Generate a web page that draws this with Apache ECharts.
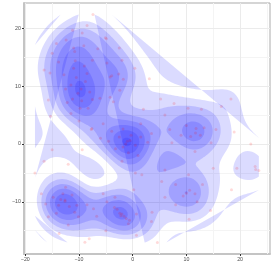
<!DOCTYPE html>
<html><head><meta charset="utf-8">
<script src="https://cdn.jsdelivr.net/npm/echarts@6/dist/echarts.min.js"></script>
<style>html,body{margin:0;padding:0;background:#fff}#c{width:274px;height:274px}</style>
</head><body><div id="c"></div>
<script>
const pointX = [
 -7.4,-8.5,-5.1,-4.9,-11.2,-12.4,-9.4,-2.5,-14.2,-15.0,-11.0,-9.1,-2.0,-13.8,-4.8,-10.7,-16.5,-15.4,0.4,-11.0,-8.5,-3.9,-2.6,-1.75,-4.2,-2.4,-9.6,-15.7,-7.5,-6.1,-3.6,-9.8,-15.3,-7.6,-4.2,-12.2,
 -10.2,-9.5,-11.2,-11.5,-8.8,-10.5,-12.5,-8.3,-11.5,-10.0,-9.0,-12.8,-7.5,-6.5,-10.8,-8.0,
 -7.7,-3.9,-2.0,0.5,1.7,-1.0,-0.3,-1.8,0.5,-2.5,-0.8,1.5,-3.2,1.0,-1.8,2.8,-4.5,-5.5,1.5,-0.5,-1.3,3.5,-6.0,
 6.9,7.3,11.6,14.6,18.9,22.0,11.8,11.7,12.6,10.8,13.3,10.0,9.0,15.5,
 3.1,5.2,7.7,10.3,12.8,18.3,16.5,2.0,6.0,
 -17.0,-12.6,-10.4,-10.1,-15.7,-13.7,-15.0,-9.4,-13.0,-11.8,-13.8,-11.3,-14.8,-12.5,-10.8,-14.2,-16.2,-12.6,-13.4,-8.5,-7.3,
 -18.2,-16.5,-12.0,
 -6.7,-4.8,-3.3,0.7,-0.8,-5.5,0.2,-2.0,-2.9,-1.2,-2.4,-1.6,-3.4,-0.6,-2.2,
 -8.9,-8.1,0.7,4.6,3.5,3.6,6.0,-5.0,-12.0,
 5.4,10.4,15.0,18.4,6.0,10.0,12.0,8.0,13.0,8.0,14.5,10.5,10.6,9.4,11.6,
 19.4,22.8,22.9,23.5
];
const pointY = [
 22.4,20.5,18.4,18.2,19.7,18.0,19.2,16.6,17.4,15.7,16.6,17.0,14.5,14.2,14.0,14.4,12.8,12.3,13.1,13.1,12.2,11.8,12.1,11.2,11.6,9.3,9.5,7.6,7.7,7.9,7.3,6.2,4.8,2.7,8.1,7.2,
 8.8,7.5,7.8,10.2,10.8,11.5,9.5,6.2,5.3,4.0,13.5,12.0,14.5,16.5,16.0,9.0,
 2.5,2.2,-3.0,-5.0,-5.3,0.5,1.5,-0.5,-0.2,1.2,-1.5,1.2,-0.8,-2.0,2.6,0.3,0.5,3.5,3.5,0.6,0.0,1.8,1.0,
 2.5,0.2,-1.3,0.2,2.1,0.0,2.7,1.9,1.5,1.3,2.8,3.2,1.5,2.5,
 11.3,7.8,7.0,6.2,6.0,7.8,6.5,6.0,5.0,
 -8.6,-9.7,-10.6,-12.6,-12.6,-15.5,-1.0,-1.0,-8.6,-10.8,-10.6,-8.8,-9.2,-7.5,-11.8,-12.0,-10.4,-9.9,-9.6,-10.5,-11.2,
 -5.0,-3.0,-3.5,
 -12.5,-10.0,-9.2,-12.1,-13.8,-8.6,-7.9,-12.1,-11.3,-12.9,-12.0,-12.5,-11.0,-13.2,-12.4,
 -17.0,-16.4,-15.8,-17.05,-13.4,-11.8,-9.2,-15.0,-14.0,
 -6.5,-5.3,-4.2,-7.9,-4.5,-8.5,-10.0,-10.5,-7.0,-7.0,-11.5,-13.0,-8.0,-9.0,-8.6,
 -4.2,-3.9,-4.4,-4.6
];
const xTickValues = [-20, -10, 0, 10, 20];
const yTickValues = [-10, 0, 10, 20];
const xMinorValues = [-15, -5, 5, 15, 25];
const yMinorValues = [-15, -5, 5, 15];
const densityBandwidth = [11, 11]; // kde2d h (x, y)

// ---- 2D kernel density (as MASS::kde2d) ----
const N = 100;
const xLo = Math.min(...pointX), xHi = Math.max(...pointX);
const yLo = Math.min(...pointY), yHi = Math.max(...pointY);
const gx = [], gy = [];
for (let i = 0; i < N; i++) { gx.push(xLo + i * (xHi - xLo) / (N - 1)); gy.push(yLo + i * (yHi - yLo) / (N - 1)); }
const hx = densityBandwidth[0] / 4, hy = densityBandwidth[1] / 4;
const phi = t => Math.exp(-0.5 * t * t) / Math.sqrt(2 * Math.PI);
const npt = pointX.length;
const ax = gx.map(g => pointX.map(x => phi((g - x) / hx)));
const ay = gy.map(g => pointY.map(y => phi((g - y) / hy)));
const Z = [];
let zMin = Infinity, zMax = -Infinity;
for (let i = 0; i < N; i++) {
  Z.push([]);
  for (let j = 0; j < N; j++) {
    let s = 0;
    for (let k = 0; k < npt; k++) s += ax[i][k] * ay[j][k];
    s /= npt * hx * hy;
    Z[i].push(s);
    if (s < zMin) zMin = s; if (s > zMax) zMax = s;
  }
}
function pretty(lo, hi, n) {
  const cell = (hi - lo) / n;
  const base = Math.pow(10, Math.floor(Math.log10(cell)));
  let U = base;
  if (2 * base - cell < 1.5 * (cell - U)) { U = 2 * base;
    if (5 * base - cell < 2.75 * (cell - U)) { U = 5 * base;
      if (10 * base - cell < 1.5 * (cell - U)) U = 10 * base; } }
  const out = [];
  for (let v = Math.floor(lo / U); v <= Math.ceil(hi / U); v++) out.push(v * U);
  return out;
}
const levels = pretty(zMin, zMax, 10).filter(l => l > zMin && l < zMax);

function edgePoint(id, L) {
  const [t, i, j] = id.split('_'); const I = +i, J = +j;
  if (t === 'h') { const a = Z[I][J], b = Z[I + 1][J], f = (L - a) / (b - a); return [gx[I] + f * (gx[I + 1] - gx[I]), gy[J]]; }
  const a = Z[I][J], b = Z[I][J + 1], f = (L - a) / (b - a); return [gx[I], gy[J] + f * (gy[J + 1] - gy[J])];
}
function contourPieces(L) {
  const adj = new Map();
  const add = (p, q) => { if (!adj.has(p)) adj.set(p, []); if (!adj.has(q)) adj.set(q, []); adj.get(p).push(q); adj.get(q).push(p); };
  for (let i = 0; i < N - 1; i++) for (let j = 0; j < N - 1; j++) {
    const a = Z[i][j], b = Z[i + 1][j], c = Z[i + 1][j + 1], d = Z[i][j + 1];
    const A = a >= L, B = b >= L, C = c >= L, D = d >= L;
    const bo = A !== B ? 'h_' + i + '_' + j : null;
    const ri = B !== C ? 'v_' + (i + 1) + '_' + j : null;
    const to = D !== C ? 'h_' + i + '_' + (j + 1) : null;
    const le = A !== D ? 'v_' + i + '_' + j : null;
    const es = [bo, ri, to, le].filter(Boolean);
    if (es.length === 2) add(es[0], es[1]);
    else if (es.length === 4) {
      const ctr = (a + b + c + d) / 4 >= L;
      if (ctr === A) { add(bo, ri); add(to, le); } else { add(bo, le); add(ri, to); }
    }
  }
  const seen = new Set(), pieces = [];
  const walk = s => { const path = [s]; seen.add(s); let cur = s;
    for (;;) { const nb = adj.get(cur).filter(n => !seen.has(n)); if (!nb.length) break; cur = nb[0]; seen.add(cur); path.push(cur); }
    return path.map(id => edgePoint(id, L)); };
  for (const [k, v] of adj) if (v.length === 1 && !seen.has(k)) pieces.push(walk(k));
  for (const [k] of adj) if (!seen.has(k)) pieces.push(walk(k));
  return pieces;
}
const polygons = [];
levels.forEach(L => contourPieces(L).forEach(p => polygons.push(p)));

const gridLines = (axis, vals, color) => vals.map(v => ({ [axis]: v, lineStyle: { color: color, width: 1, type: 'solid' } }));

const chart = echarts.init(document.getElementById('c'), null, { renderer: 'canvas' });
chart.setOption({
  animation: false,
  backgroundColor: '#fff',
  grid: { left: 24, right: 4, top: 3, bottom: 20, show: true, borderColor: '#ABABAB', borderWidth: 1, backgroundColor: '#fff' },
  xAxis: {
    type: 'value', min: -20.24, max: 25.57,
    axisLine: { show: true, onZero: false, lineStyle: { color: '#C4C4C4', width: 2 } },
    axisTick: { show: true, length: 2, customValues: xTickValues, lineStyle: { color: '#333', width: 1 } },
    axisLabel: { customValues: xTickValues, fontSize: 5.3, color: '#4D4D4D', margin: 3, fontFamily: 'Liberation Sans, Arial, sans-serif', formatter: v => String(v).replace('-', '\u2212') },
    splitLine: { show: false }
  },
  yAxis: {
    type: 'value', min: -19.03, max: 24.4,
    axisLine: { show: true, onZero: false, lineStyle: { color: '#C4C4C4', width: 2 } },
    axisTick: { show: true, length: 2, customValues: yTickValues, lineStyle: { color: '#333', width: 1 } },
    axisLabel: { customValues: yTickValues, fontSize: 5.3, color: '#4D4D4D', margin: 3, fontFamily: 'Liberation Sans, Arial, sans-serif', formatter: v => String(v).replace('-', '\u2212') },
    splitLine: { show: false }
  },
  series: [
    { type: 'line', data: [], z: 1, silent: true,
      markLine: { silent: true, z: 1, symbol: 'none', label: { show: false }, animation: false,
        data: [].concat(gridLines('xAxis', xMinorValues, '#F4F4F4'), gridLines('yAxis', yMinorValues, '#F4F4F4'),
                        gridLines('xAxis', xTickValues, '#EBEBEB'), gridLines('yAxis', yTickValues, '#EBEBEB')) } },
    { type: 'custom', z: 2, silent: true, clip: true, data: [[0, 0]],
      renderItem: function (params, api) {
        return { type: 'group', children: polygons.map(p => ({ type: 'polygon', shape: { points: p.map(q => api.coord(q)) }, style: { fill: 'rgba(0,0,255,0.14)' } })) };
      } },
    { type: 'scatter', z: 3, silent: true, symbolSize: 3, itemStyle: { color: 'rgba(255,0,0,0.18)' },
      data: pointX.map((x, i) => [x, pointY[i]]) }
  ]
});
</script></body></html>
